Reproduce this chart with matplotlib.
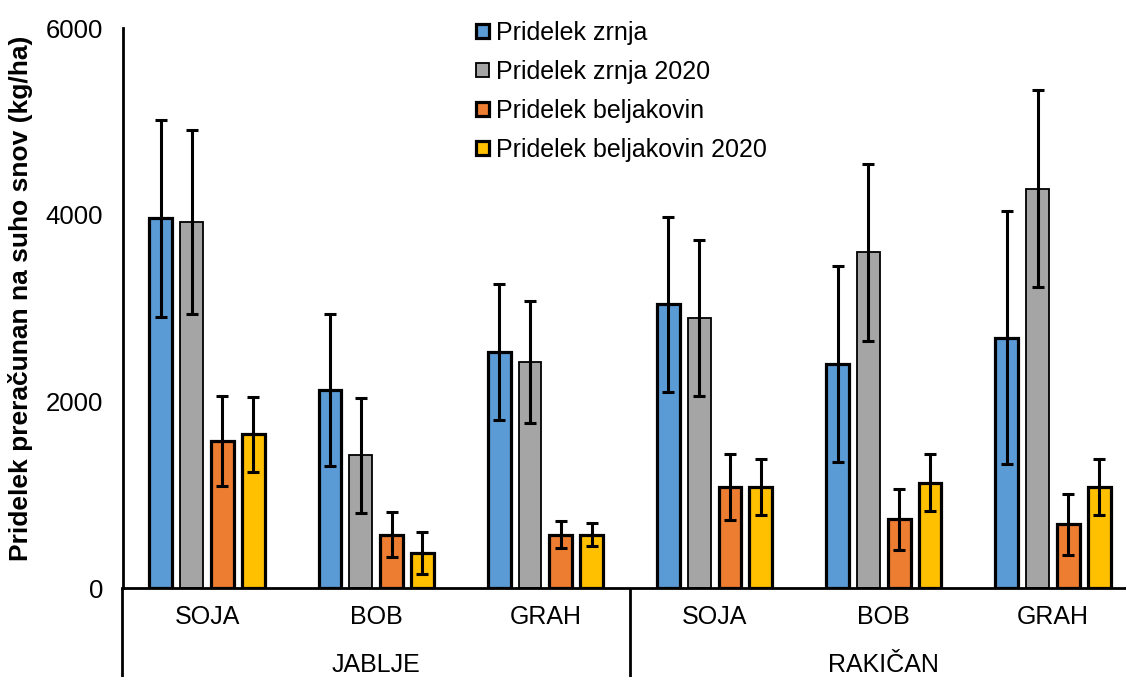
import numpy as np
import matplotlib
matplotlib.use("Agg")
import matplotlib.pyplot as plt
import matplotlib.transforms as mtransforms

plt.rcParams["font.family"] = ["Liberation Sans", "DejaVu Sans"]

# data (kg/ha)
categories = ["SOJA", "BOB", "GRAH", "SOJA", "BOB", "GRAH"]
locations = ["JABLJE", "RAKIČAN"]

zrnja = [3960, 2120, 2530, 3040, 2400, 2680]
zrnja_err = [1055, 815, 730, 940, 1050, 1355]
zrnja_2020 = [3925, 1420, 2420, 2890, 3595, 4280]
zrnja_2020_err = [985, 615, 650, 835, 945, 1055]
beljakovin = [1575, 570, 570, 1080, 735, 685]
beljakovin_err = [480, 243, 143, 355, 330, 327]
beljakovin_2020 = [1645, 380, 570, 1080, 1130, 1080]
beljakovin_2020_err = [405, 225, 125, 300, 303, 300]

series = [
    ("Pridelek zrnja", zrnja, zrnja_err, "#5B9BD5", 2.3),
    ("Pridelek zrnja 2020", zrnja_2020, zrnja_2020_err, "#A5A5A5", 1.3),
    ("Pridelek beljakovin", beljakovin, beljakovin_err, "#ED7D31", 2.3),
    ("Pridelek beljakovin 2020", beljakovin_2020, beljakovin_2020_err, "#FFC000", 2.3),
]

fig = plt.figure(figsize=(11.26, 6.77), dpi=100)
W, H = 1126, 677
ax = fig.add_axes([122.5 / W, (H - 588) / H, 1015 / W, 560 / H])

x = np.arange(len(categories))
step = 0.182
width = 0.135
for i, (name, vals, errs, col, lw) in enumerate(series):
    pos = x + (i - 1.5) * step
    ax.bar(pos, vals, width, color=col, edgecolor="black", linewidth=lw,
           label=name, zorder=2)
    ax.errorbar(pos, vals, yerr=errs, fmt="none", ecolor="black",
                elinewidth=2.2, capsize=4.2, capthick=2.2, zorder=3)

ax.set_xlim(-0.5, 5.5)
ax.set_ylim(0, 6000)
ax.set_yticks([0, 2000, 4000, 6000])
ax.tick_params(axis="y", length=0, pad=14, labelsize=18.5)
ax.set_xticks(x)
ax.set_xticklabels(categories)
ax.tick_params(axis="x", length=0, pad=12, labelsize=18)

for s in ["top", "right"]:
    ax.spines[s].set_visible(False)
ax.spines["left"].set_linewidth(2.0)
ax.spines["bottom"].set_linewidth(2.0)

# group separators below the axis
trans = mtransforms.blended_transform_factory(ax.transData, ax.transAxes)
for xs in [-0.5, 2.5]:
    ax.plot([xs, xs], [0, -0.16], color="black", lw=2.0, transform=trans,
            clip_on=False, solid_capstyle="butt")
for j, loc in enumerate(locations):
    ax.text(j * 3 + 1, -0.1375, loc, transform=trans, ha="center",
            va="center", fontsize=18)

ax.set_ylabel("Pridelek preračunan na suho snov (kg/ha)", fontsize=19,
              fontweight="bold")
ax.yaxis.set_label_coords(-0.088, 0.518)

ax.legend(loc="upper left", bbox_to_anchor=(476 / W, 1 - 21 / H),
          bbox_transform=fig.transFigure, frameon=False, fontsize=18,
          handlelength=0.52, handleheight=0.52, handletextpad=0.3,
          labelspacing=0.6, borderpad=0, borderaxespad=0)

fig.savefig("out.png", dpi=100)
